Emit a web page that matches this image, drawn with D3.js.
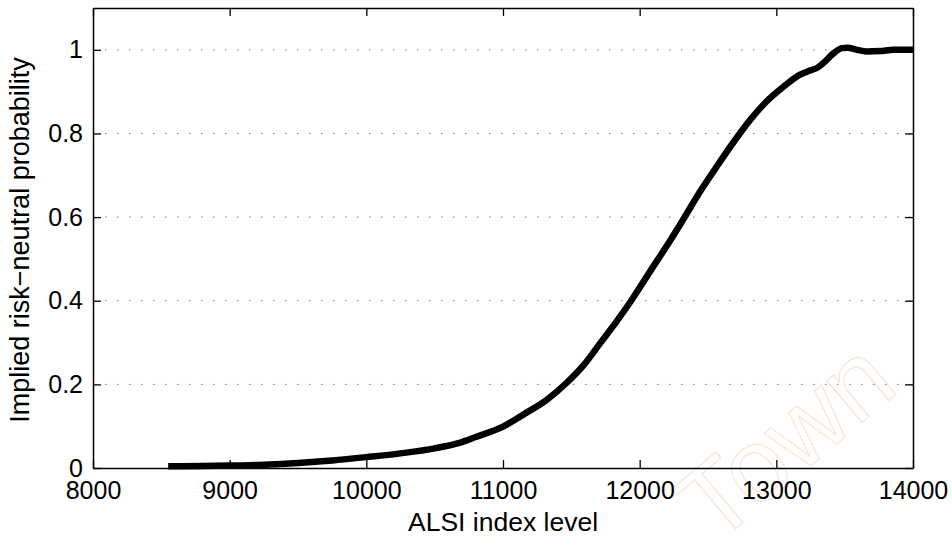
<!DOCTYPE html>
<html>
<head>
<meta charset="utf-8">
<script src="https://cdn.jsdelivr.net/npm/d3@7"></script>
<style>
  body { margin: 0; background: #fff; }
  svg { font-family: "Liberation Sans", Arial, sans-serif; }
</style>
</head>
<body>
<div id="chart"></div>
<script>
// index level vs implied probability
const level = [8550, 8800, 9000, 9250, 9500, 9750, 10000, 10250, 10500, 10700, 10800,
  11000, 11160, 11320, 11470, 11590, 11710, 11830, 11950, 12080, 12200, 12320, 12440,
  12560, 12680, 12810, 12930, 13050, 13170, 13250, 13300, 13360, 13420, 13480, 13520,
  13590, 13660, 13760, 13860, 14000];
const prob = [0.004, 0.005, 0.006, 0.008, 0.012, 0.018, 0.026, 0.035, 0.047, 0.062, 0.074,
  0.099, 0.130, 0.163, 0.205, 0.246, 0.298, 0.350, 0.406, 0.472, 0.532, 0.595, 0.660,
  0.719, 0.776, 0.833, 0.877, 0.911, 0.940, 0.951, 0.957, 0.973, 0.992, 1.004, 1.005,
  1.000, 0.996, 0.997, 1.000, 1.000];
const xTicks = [8000, 9000, 10000, 11000, 12000, 13000, 14000];
const yTicks = [0, 0.2, 0.4, 0.6, 0.8, 1];

const w = 952, h = 537;
const padL = 93, padR = 913, padT = 8, padB = 468;

const svg = d3.select("#chart").append("svg")
  .attr("width", w).attr("height", h);

// faint watermark
svg.append("text")
  .attr("transform", "translate(808,468) rotate(-40)")
  .attr("text-anchor", "middle")
  .attr("font-size", 104)
  .attr("fill", "none")
  .attr("stroke", "#f6e7dc")
  .attr("stroke-width", 1.3)
  .text("Town");

const x = d3.scaleLinear().domain([8000, 14000]).range([padL, padR]);
const y = d3.scaleLinear().domain([0, 1.1]).range([padB, padT]);

// dotted grid
svg.append("g")
  .selectAll("line")
  .data(yTicks.filter(d => d > 0))
  .enter().append("line")
  .attr("x1", padL).attr("x2", padR)
  .attr("y1", d => y(d)).attr("y2", d => y(d))
  .attr("stroke", "#777")
  .attr("stroke-width", 1)
  .attr("stroke-dasharray", "1.5,10.5");

const tickLen = 8;
const fmtY = d => d === 0 ? "0" : d === 1 ? "1" : d3.format(".1f")(d);

const xAxis = svg.append("g")
  .attr("transform", `translate(0,${padB})`)
  .call(d3.axisBottom(x).tickValues(xTicks).tickFormat(d3.format("d"))
    .tickSizeInner(-tickLen).tickSizeOuter(0).tickPadding(13));
svg.append("g")
  .attr("transform", `translate(0,${padT})`)
  .call(d3.axisTop(x).tickValues(xTicks).tickFormat("")
    .tickSizeInner(-tickLen).tickSizeOuter(0));
const yAxis = svg.append("g")
  .attr("transform", `translate(${padL},0)`)
  .call(d3.axisLeft(y).tickValues(yTicks).tickFormat(fmtY)
    .tickSizeInner(-tickLen).tickSizeOuter(0).tickPadding(10));
svg.append("g")
  .attr("transform", `translate(${padR},0)`)
  .call(d3.axisRight(y).tickValues(yTicks).tickFormat("")
    .tickSizeInner(-tickLen).tickSizeOuter(0));

svg.selectAll(".domain").attr("stroke", "#000").attr("stroke-width", 1.5);
svg.selectAll(".tick line").attr("stroke", "#000").attr("stroke-width", 1.3);
svg.selectAll(".tick text").attr("font-size", 25).attr("fill", "#000")
  .attr("font-family", "'Liberation Sans', Arial, sans-serif");
xAxis.selectAll(".tick text").attr("dy", "0.71em");

// curve
const pts = level.map((v, i) => [v, prob[i]]);
svg.append("path")
  .datum(pts)
  .attr("fill", "none")
  .attr("stroke", "#000")
  .attr("stroke-width", 6.5)
  .attr("stroke-linejoin", "round")
  .attr("d", d3.line().x(d => x(d[0])).y(d => y(d[1])).curve(d3.curveMonotoneX));

// labels
svg.append("text")
  .attr("x", (padL + padR) / 2)
  .attr("y", 531)
  .attr("text-anchor", "middle")
  .attr("font-size", 26.5)
  .text("ALSI index level");

svg.append("text")
  .attr("transform", `translate(29,${(padT + padB) / 2 + 2}) rotate(-90)`)
  .attr("text-anchor", "middle")
  .attr("font-size", 27)
  .text("Implied risk\u2212neutral probability");
</script>
</body>
</html>
